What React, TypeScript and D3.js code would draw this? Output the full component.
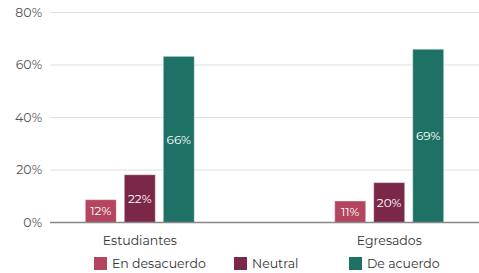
import React from "react";
import * as d3 from "d3";

const categories = ["Estudiantes", "Egresados"];
const seriesNames = ["En desacuerdo", "Neutral", "De acuerdo"];
const seriesColors = ["#b3455f", "#7b2848", "#1e7265"];
// bar heights as drawn (percent)
const barValues = [
  [8.7, 18.2, 63.3],
  [8.2, 15.2, 66.0],
];
// labels printed inside bars
const barLabels = [
  ["12%", "22%", "66%"],
  ["11%", "20%", "69%"],
];
const yTicks = [0, 20, 40, 60, 80];

const W = 479;
const H = 273;
const FONT = "Montserrat, 'Open Sans', 'DejaVu Sans', sans-serif";

export default function App() {
  const y = d3.scaleLinear().domain([0, 80]).range([222.5, 12.5]);
  const x0 = d3.scalePoint<string>().domain(categories).range([50, 479]).padding(0.36);
  const x1 = d3
    .scaleBand<string>()
    .domain(seriesNames)
    .range([-58.5, 58.5])
    .paddingInner(0.205)
    .paddingOuter(0.1025);

  const legendX = [94, 234, 349];

  return (
    <svg
      width={W}
      height={H}
      style={{ position: "absolute", left: 0, top: 0, background: "#fff" }}
      fontFamily={FONT}
    >
      {yTicks.map((t) => (
        <g key={t}>
          {t !== 0 && (
            <line x1={50} x2={W} y1={y(t)} y2={y(t)} stroke="#e0e0e0" strokeWidth={1.2} />
          )}
          <text
            x={42}
            y={y(t)}
            dy="0.35em"
            textAnchor="end"
            fontSize={12.5}
            fill="#555"
          >
            {t}%
          </text>
        </g>
      ))}
      {categories.map((c, ci) => (
        <g key={c} transform={`translate(${x0(c)},0)`}>
          {seriesNames.map((s, si) => {
            const v = barValues[ci][si];
            const bx = x1(s)!;
            const top = y(v);
            const bottom = y(0);
            return (
              <g key={s}>
                <rect
                  x={bx}
                  y={top}
                  width={x1.bandwidth()}
                  height={bottom - top}
                  fill={seriesColors[si]}
                  stroke="#ffffff"
                  strokeOpacity={0.4}
                  strokeWidth={1}
                />
                <text
                  x={bx + x1.bandwidth() / 2}
                  y={(top + bottom) / 2}
                  dy="0.35em"
                  textAnchor="middle"
                  fontSize={12}
                  fill="#ffffff"
                >
                  {barLabels[ci][si]}
                </text>
              </g>
            );
          })}
          <text x={0} y={241} dy="0.35em" textAnchor="middle" fontSize={12.5} fill="#333">
            {c}
          </text>
        </g>
      ))}
      <line x1={50} x2={W} y1={y(0)} y2={y(0)} stroke="#888" strokeWidth={1.3} />
      {seriesNames.map((s, si) => (
        <g key={s} transform={`translate(${legendX[si]},257)`}>
          <rect x={0} y={0} width={13} height={13} fill={seriesColors[si]} />
          <text x={18} y={6.5} dy="0.35em" fontSize={12.5} fill="#333">
            {s}
          </text>
        </g>
      ))}
    </svg>
  );
}
